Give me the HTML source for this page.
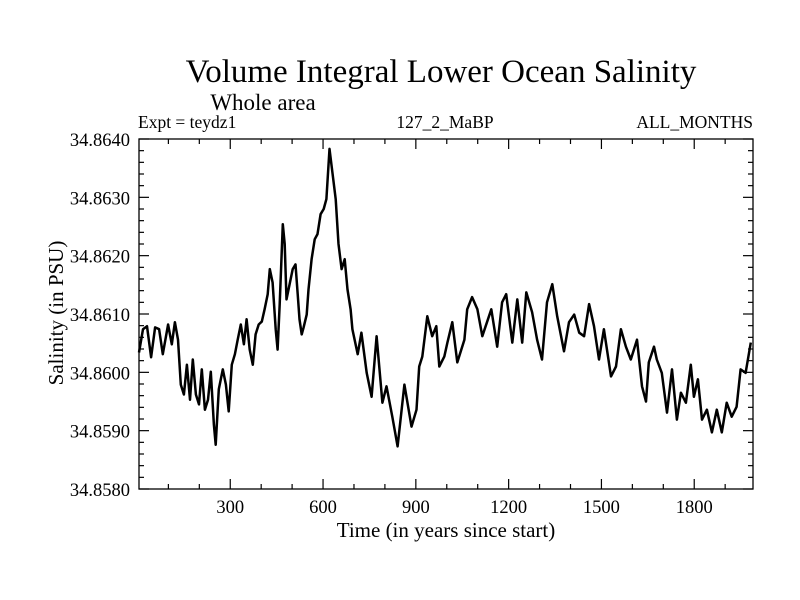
<!DOCTYPE html>
<html><head><meta charset="utf-8"><style>
html,body{margin:0;padding:0;background:#fff;}
svg{display:block;font-family:"Liberation Serif",serif;}
</style></head><body>
<svg id="chart" width="800" height="600" viewBox="0 0 800 600">
<text x="441" y="82" font-size="33" text-anchor="middle">Volume Integral Lower Ocean Salinity</text>
<text x="263" y="110" font-size="23" text-anchor="middle">Whole area</text>
<text x="138" y="128" font-size="17.5">Expt = teydz1</text>
<text x="445" y="128" font-size="17.5" text-anchor="middle">127_2_MaBP</text>
<text x="753" y="128" font-size="17.5" text-anchor="end">ALL_MONTHS</text>
<text x="446" y="537" font-size="21" text-anchor="middle">Time (in years since start)</text>
<text x="0" y="0" font-size="21" text-anchor="middle" transform="translate(63,313) rotate(-90)">Salinity (in PSU)</text>
<g id="axes"></g>
<path id="series" fill="none" stroke="#000" stroke-width="2.5" stroke-linejoin="round"></path>
<rect x="139" y="139" width="614" height="350" fill="none" stroke="#000" stroke-width="1.3"></rect>
</svg>
<script>
const years=[5,18,31,44,57,70,82,99,111,121,131,140,150,160,170,179,189,199,208,218,228,237,247,253,263,276,286,295,305,315,324,334,344,353,363,373,382,392,402,411,421,428,437,447,453,460,470,476,482,492,502,511,518,524,531,537,547,553,563,573,582,592,602,611,621,631,641,650,660,670,679,689,695,712,724,741,757,773,792,805,824,841,863,886,902,911,921,937,953,966,976,992,1002,1018,1034,1057,1066,1082,1099,1115,1144,1163,1179,1192,1212,1228,1244,1257,1276,1292,1308,1324,1341,1357,1379,1395,1412,1428,1444,1460,1476,1492,1508,1531,1547,1563,1579,1595,1615,1631,1644,1653,1670,1679,1695,1712,1728,1744,1757,1773,1789,1799,1812,1825,1841,1857,1873,1889,1905,1921,1937,1950,1966,1983];
const salinity=[34.86034,34.86074,34.86079,34.86026,34.86077,34.86074,34.86031,34.86082,34.86048,34.86086,34.86056,34.85979,34.85962,34.86013,34.85953,34.86022,34.85962,34.85945,34.86005,34.85936,34.85953,34.86001,34.85910,34.85876,34.85971,34.86005,34.85979,34.85933,34.86013,34.86031,34.86056,34.86082,34.86048,34.86091,34.86039,34.86013,34.86065,34.86082,34.86087,34.86108,34.86134,34.86177,34.86154,34.86074,34.86039,34.86117,34.86254,34.86220,34.86125,34.86151,34.86177,34.86185,34.86134,34.86091,34.86065,34.86077,34.86099,34.86142,34.86194,34.86228,34.86237,34.86271,34.86280,34.86297,34.86383,34.86340,34.86297,34.86220,34.86177,34.86194,34.86142,34.86108,34.86074,34.86031,34.86068,34.85999,34.85958,34.86062,34.85948,34.85976,34.85924,34.85873,34.85979,34.85907,34.85936,34.86010,34.86027,34.86096,34.86062,34.86079,34.86010,34.86027,34.86051,34.86086,34.86017,34.86056,34.86108,34.86129,34.86108,34.86062,34.86108,34.86044,34.86120,34.86134,34.86051,34.86125,34.86051,34.86137,34.86103,34.86056,34.86022,34.86120,34.86151,34.86096,34.86036,34.86086,34.86099,34.86068,34.86062,34.86117,34.86079,34.86022,34.86074,34.85993,34.86010,34.86074,34.86044,34.86022,34.86056,34.85976,34.85950,34.86017,34.86044,34.86022,34.85999,34.85931,34.86005,34.85919,34.85965,34.85948,34.86013,34.85958,34.85988,34.85919,34.85936,34.85897,34.85936,34.85897,34.85948,34.85924,34.85941,34.86005,34.85999,34.86051];
const xTicks=[300,600,900,1200,1500,1800];
const yTicks=[34.858,34.859,34.860,34.861,34.862,34.863,34.864];
const yTickLabels=["34.8580","34.8590","34.8600","34.8610","34.8620","34.8630","34.8640"];
const X0=139,X1=753,Y0=489,Y1=139,XMIN=5,XMAX=1990,YMIN=34.858,YMAX=34.864;
function sx(v){return X0+(v-XMIN)/(XMAX-XMIN)*(X1-X0);}
function sy(v){return Y0-(v-YMIN)/(YMAX-YMIN)*(Y0-Y1);}
const NS='http://www.w3.org/2000/svg';
const axes=document.getElementById('axes');
function line(x1,y1,x2,y2,name){const l=document.createElementNS(NS,'line');
l.setAttribute('x1',x1);l.setAttribute('y1',y1);l.setAttribute('x2',x2);l.setAttribute('y2',y2);
l.setAttribute('stroke','#000');l.setAttribute('stroke-width','1.2');


axes.appendChild(l);}
function text(x,y,s,anchor,name){const t=document.createElementNS(NS,'text');
t.setAttribute('x',x);t.setAttribute('y',y);t.setAttribute('font-size','18.5');t.setAttribute('text-anchor',anchor);t.textContent=s;


axes.appendChild(t);}
for(let v=100;v<XMAX;v+=100){const x=sx(v);const major=v%300===0;const L=major?10:5;
line(x,Y0,x,Y0-L,'x-tick');line(x,Y1,x,Y1+L,'x-tick-top');}
xTicks.forEach(v=>text(sx(v),513,String(v),'middle','x-tick-label'));
for(let i=0;i<=30;i++){const v=YMIN+i*0.0002;const y=sy(v);const major=i%5===0;const L=major?10:5;
line(X0,y,X0+L,y,'y-tick');line(X1,y,X1-L,y,'y-tick-right');}
yTicks.forEach((v,i)=>text(130,sy(v)+7,yTickLabels[i],'end','y-tick-label'));
let d='';years.forEach((yr,i)=>{d+=(i?'L':'M')+sx(yr).toFixed(1)+','+sy(salinity[i]).toFixed(1);});
document.getElementById('series').setAttribute('d',d);
</script>
</body></html>
